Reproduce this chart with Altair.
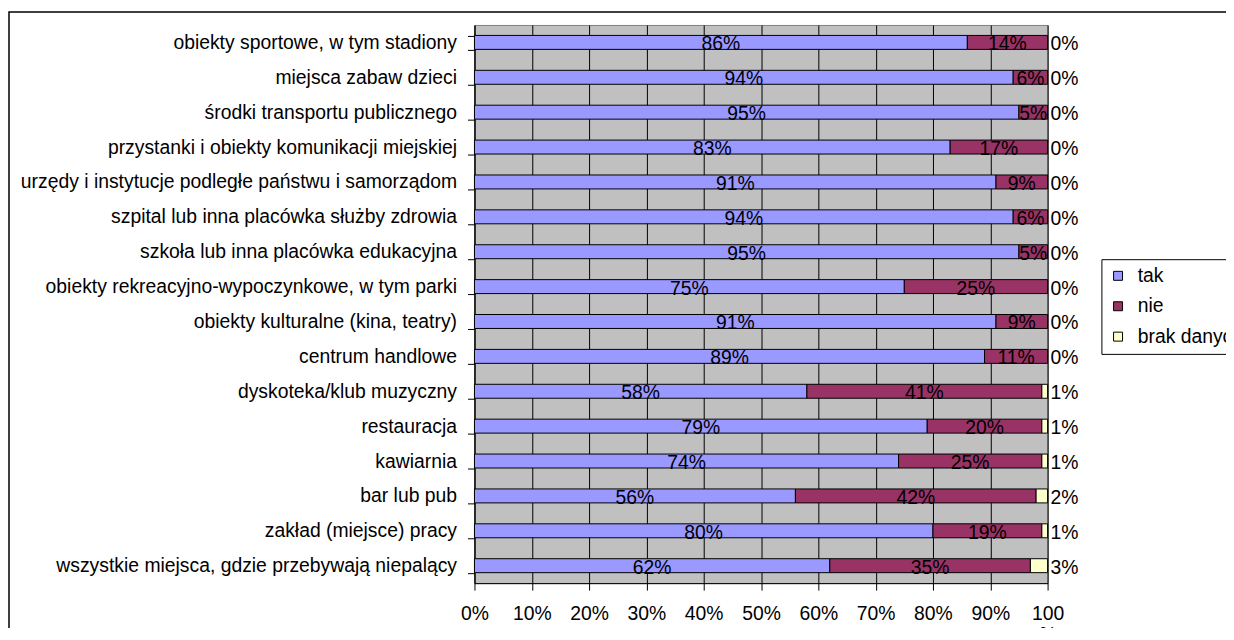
import altair as alt
import pandas as pd

categories = [
    "obiekty sportowe, w tym stadiony",
    "miejsca zabaw dzieci",
    "środki transportu publicznego",
    "przystanki i obiekty komunikacji miejskiej",
    "urzędy i instytucje podległe państwu i samorządom",
    "szpital lub inna placówka służby zdrowia",
    "szkoła lub inna placówka edukacyjna",
    "obiekty rekreacyjno-wypoczynkowe, w tym parki",
    "obiekty kulturalne (kina, teatry)",
    "centrum handlowe",
    "dyskoteka/klub muzyczny",
    "restauracja",
    "kawiarnia",
    "bar lub pub",
    "zakład (miejsce) pracy",
    "wszystkie miejsca, gdzie przebywają niepalący",
]
tak = [86, 94, 95, 83, 91, 94, 95, 75, 91, 89, 58, 79, 74, 56, 80, 62]
nie = [14, 6, 5, 17, 9, 6, 5, 25, 9, 11, 41, 20, 25, 42, 19, 35]
brak = [0, 0, 0, 0, 0, 0, 0, 0, 0, 0, 1, 1, 1, 2, 1, 3]
series = ["tak", "nie", "brak danych"]
colors = ["#9999FF", "#993366", "#FFFFCC"]
x_ticks = [0, 10, 20, 30, 40, 50, 60, 70, 80, 90, 100]

rows = []
for i, c in enumerate(categories):
    start = 0
    for s, vals in zip(series, [tak, nie, brak]):
        v = vals[i]
        rows.append(dict(cat=c, series=s, value=v, start=start, end=start + v,
                         mid=start + v / 2, label=f"{v}%"))
        start += v
df = pd.DataFrame(rows)

FONT = "Liberation Sans"
FS = 19.4
W, H = 575, 560

y_axis = alt.Axis(tickBand="extent", labelFontSize=FS, labelFont=FONT, labelColor="black",
                  labelPadding=11, tickSize=7, tickColor="black", domainColor="black",
                  grid=False, labelLimit=600, title=None)
y_scale = alt.Scale(paddingInner=0.6, paddingOuter=0.3)
x_scale = alt.Scale(domain=[0, 100], nice=False)
x_axis = alt.Axis(values=x_ticks,
                  labelExpr="datum.value == 100 ? ['100','%'] : datum.value + '%'",
                  labelFontSize=FS, labelFont=FONT, labelColor="black", labelPadding=14,
                  labelLineHeight=22, tickSize=7, tickColor="black", domainColor="black",
                  grid=True, gridColor="black", gridWidth=1, title=None, labelFlush=False)

def Y():
    return alt.Y("cat:N", sort=categories, scale=y_scale, axis=y_axis, title=None)

frame = alt.Chart(alt.Data(values=[{}])).mark_rect(
    fillOpacity=0, stroke="black", strokeWidth=1.5
).encode(x=alt.value(-467), x2=alt.value(1200), y=alt.value(-13), y2=alt.value(1000))

bars = alt.Chart(df).transform_filter("datum.value > 0").mark_bar(
    stroke="black", strokeWidth=1
).encode(
    y=Y(),
    x=alt.X("start:Q", scale=x_scale, axis=x_axis, title=None),
    x2="end:Q",
    color=alt.Color("series:N", scale=alt.Scale(domain=series, range=colors),
                    legend=alt.Legend(title=None, orient="none", legendX=629, legendY=235,
                                      strokeColor="black", fillColor="white", padding=7,
                                      symbolType="square", symbolSize=81,
                                      symbolStrokeColor="black", symbolStrokeWidth=1,
                                      labelFontSize=FS, labelFont=FONT, labelColor="black",
                                      rowPadding=9.5, labelOffset=10)),
)

inner = alt.Chart(df).transform_filter("datum.series != 'brak danych'").mark_text(
    fontSize=FS, font=FONT, color="black", dy=2
).encode(y=Y(), x=alt.X("mid:Q", scale=x_scale, axis=x_axis, title=None), text="label:N")

outer = alt.Chart(df).transform_filter("datum.series == 'brak danych'").mark_text(
    fontSize=FS, font=FONT, color="black", dy=2, align="left", dx=3
).encode(y=Y(), x=alt.X("end:Q", scale=x_scale, axis=x_axis, title=None), text="label:N")

chart = alt.layer(frame, bars, inner, outer).properties(
    width=W, height=H,
    autosize=alt.AutoSizeParams(type="none"),
    padding={"left": 468, "top": 16, "right": 179, "bottom": 44},
    background="white",
).configure_view(fill="#C0C0C0", stroke="#808080")

chart.save("out.html", embed_options={"renderer": "svg", "actions": False})
